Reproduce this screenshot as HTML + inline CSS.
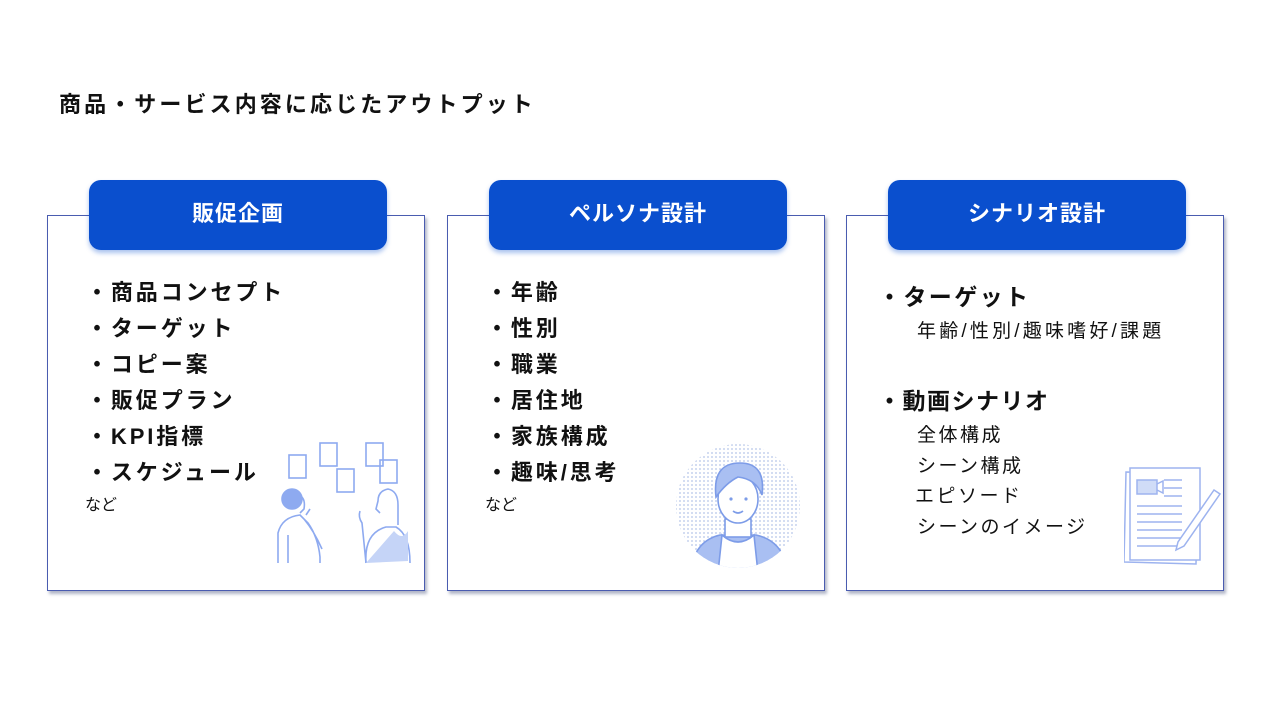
<!DOCTYPE html>
<html><head><meta charset="utf-8">
<style>
*{margin:0;padding:0;box-sizing:border-box}
body{width:1280px;height:720px;background:#fff;position:relative;overflow:hidden;font-family:"Liberation Sans","Noto Sans CJK JP",sans-serif;color:#111}
.title{position:absolute;left:59px;top:87px;font-size:22px;font-weight:bold;letter-spacing:3.1px;white-space:nowrap}
.box{position:absolute;top:215px;width:378px;height:376px;border:1.5px solid #4a5cb0;box-shadow:2px 3px 3px rgba(80,90,130,.45);background:#fff}
.tab{position:absolute;top:180px;width:298px;height:70px;background:#0a4fce;border-radius:12px;color:#fff;font-size:22px;font-weight:bold;text-align:center;line-height:68px;letter-spacing:1px;box-shadow:0 3px 5px rgba(10,79,206,.35)}
.t{position:absolute;white-space:nowrap;font-size:22px;font-weight:bold;letter-spacing:2.9px;line-height:30px}
.s{position:absolute;white-space:nowrap;font-size:19px;line-height:26px;letter-spacing:2.5px}
.n{position:absolute;font-size:16px;line-height:20px}
</style></head><body>
<div class="title">商品・サービス内容に応じたアウトプット</div>

<div class="box" style="left:47px"></div>
<div class="box" style="left:447px"></div>
<div class="box" style="left:846px"></div>
<div class="tab" style="left:89px">販促企画</div>
<div class="tab" style="left:489px">ペルソナ設計</div>
<div class="tab" style="left:888px">シナリオ設計</div>

<div class="t" style="left:86px;top:278px">・商品コンセプト</div>
<div class="t" style="left:86px;top:314px">・ターゲット</div>
<div class="t" style="left:86px;top:350px">・コピー案</div>
<div class="t" style="left:86px;top:386px">・販促プラン</div>
<div class="t" style="left:86px;top:422px">・KPI指標</div>
<div class="t" style="left:86px;top:458px">・スケジュール</div>
<div class="n" style="left:85px;top:496px">など</div>

<div class="t" style="left:486px;top:278px">・年齢</div>
<div class="t" style="left:486px;top:314px">・性別</div>
<div class="t" style="left:486px;top:350px">・職業</div>
<div class="t" style="left:486px;top:386px">・居住地</div>
<div class="t" style="left:486px;top:422px">・家族構成</div>
<div class="t" style="left:486px;top:458px">・趣味/思考</div>
<div class="n" style="left:485px;top:496px">など</div>

<div class="t" style="left:878px;top:282px;font-size:23px;letter-spacing:2.4px">・ターゲット</div>
<div class="s" style="left:917px;top:319px;letter-spacing:3.2px">年齢/性別/趣味嗜好/課題</div>
<div class="t" style="left:878px;top:386px;font-size:23px;letter-spacing:1.5px">・動画シナリオ</div>
<div class="s" style="left:917px;top:423px">全体構成</div>
<div class="s" style="left:917px;top:454px">シーン構成</div>
<div class="s" style="left:915px;top:484px">エピソード</div>
<div class="s" style="left:917px;top:515px">シーンのイメージ</div>

<!-- illustration 1 -->
<svg style="position:absolute;left:270px;top:435px" width="150" height="130" viewBox="0 0 150 130" fill="none" stroke="#8eaaf0" stroke-width="1.6">
<rect x="19" y="20" width="17" height="23"/><rect x="50" y="8" width="17" height="23"/><rect x="67" y="34" width="17" height="23"/>
<rect x="96" y="8" width="17" height="23"/><rect x="110" y="25" width="17" height="23"/>
<circle cx="22" cy="64" r="10" fill="#8eaaf0"/>
<path d="M28 60 q8 2 6 14 l-4 4 M36 80 l4 -6"/>
<path d="M8 128 v-30 q4 -16 22 -18 l8 8 q10 14 12 34 v6 M18 128 v-28 M34 84 q10 12 18 30"/>
<path d="M96 128 q-2 -30 20 -36 l10 0 q14 8 14 36 M128 90 v-20 q0 -14 -10 -16 q-10 2 -10 12 l-2 8 l4 4"/>
<path d="M96 128 l-4 -40 q-4 -6 -2 -12" />
<path d="M124 96 q8 10 14 0 l0 30 l-42 2 z" fill="#c5d4f7" stroke="none"/>
</svg>

<!-- illustration 2 -->
<svg style="position:absolute;left:670px;top:443px" width="135" height="130" viewBox="0 0 135 130">
<defs><pattern id="d" width="4" height="4" patternUnits="userSpaceOnUse"><circle cx="2" cy="2" r="0.9" fill="#b5c5e8"/></pattern>
<clipPath id="c"><circle cx="68" cy="63" r="62"/></clipPath></defs>
<circle cx="68" cy="63" r="62" fill="url(#d)"/>
<g clip-path="url(#c)" stroke="#7d9ce8" stroke-width="1.6">
<path d="M20 130 q4 -32 30 -38 l36 0 q28 6 32 38z" fill="#a9bff2"/>
<path d="M52 92 q16 14 32 0 l4 38 h-40z" fill="#fff"/>
<rect x="55" y="76" width="26" height="18" fill="#fff"/>
<ellipse cx="68" cy="56" rx="20" ry="24" fill="#fff"/>
<path d="M46 54 q-4 -34 24 -34 q26 0 22 32 q-6 -16 -24 -18 q-12 6 -22 20z" fill="#a9bff2"/>
<circle cx="61" cy="56" r="1.6" fill="#7d9ce8" stroke="none"/><circle cx="76" cy="56" r="1.6" fill="#7d9ce8" stroke="none"/>
<path d="M63 68 q5 4 10 0" fill="none"/>
</g></svg>

<!-- illustration 3 -->
<svg style="position:absolute;left:1124px;top:464px" width="100" height="104" viewBox="0 0 100 104" fill="none" stroke="#9db3ef" stroke-width="1.5">
<path d="M2 8 l72 2 l-2 90 l-72 -2z" fill="#fff"/>
<rect x="6" y="4" width="70" height="92" fill="#fff"/>
<rect x="13" y="16" width="20" height="14" fill="#d0dcf7"/><path d="M33 20 l6 -3 v12 l-6 -3"/>
<path d="M40 16 h18 M40 24 h18 M40 32 h18 M13 42 h45 M13 50 h45 M13 58 h45 M13 66 h45 M13 74 h45 M13 82 h45"/>
<path d="M90 26 l6 4 l-36 52 l-8 4 l2 -8z" fill="#fff"/>
</svg>
</body></html>
